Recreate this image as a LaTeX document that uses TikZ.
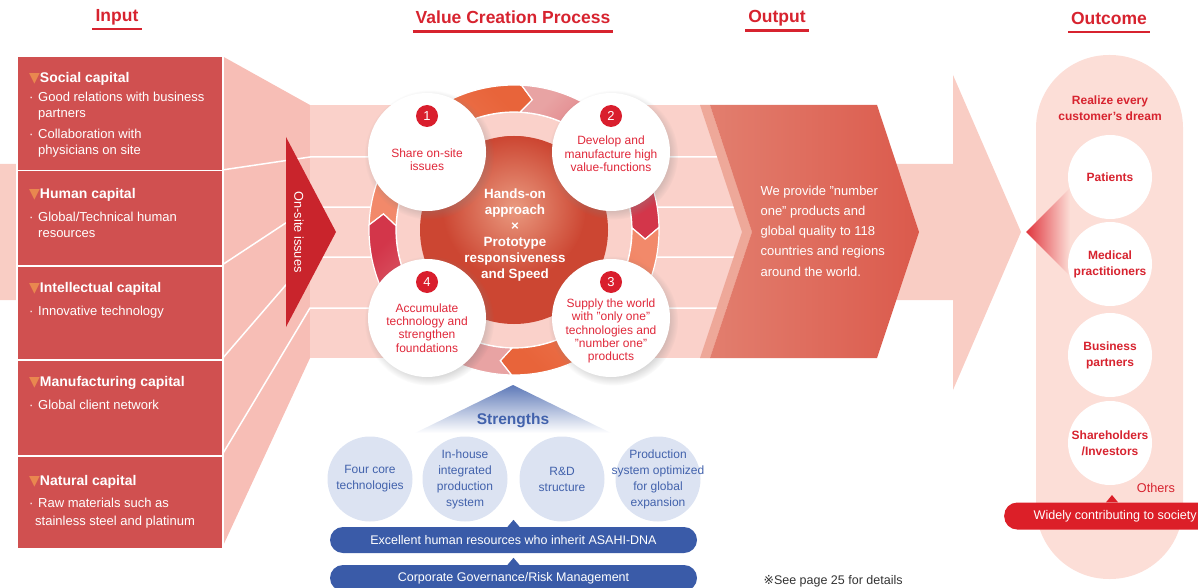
\documentclass[tikz,border=0pt]{standalone}
\usepackage{fontspec}
\setmainfont{Liberation Sans}
\newfontfamily\symfont{DejaVu Sans}
\usetikzlibrary{arrows,calc,positioning,shapes,shadows}

\definecolor{headred}{HTML}{D7232F}
\definecolor{boxred}{HTML}{D05050}
\definecolor{funnelpink}{HTML}{F7BEB6}
\definecolor{bandpink}{HTML}{FAD1CA}
\definecolor{arrowpink}{HTML}{F9CDC4}
\definecolor{pillpink}{HTML}{FCDED7}
\definecolor{issuered}{HTML}{C9242C}
\definecolor{outleft}{HTML}{E27E6E}
\definecolor{outright}{HTML}{DB5A4C}
\definecolor{outstripe}{HTML}{EEA899}
\definecolor{ringorange}{HTML}{E8643A}
\definecolor{ringsalmon}{HTML}{F2896A}
\definecolor{ringpink}{HTML}{E8A3A3}
\definecolor{ringred}{HTML}{D3364A}
\definecolor{spherein}{HTML}{EA9A80}
\definecolor{sphereout}{HTML}{CC4632}
\definecolor{stagered}{HTML}{E0283A}
\definecolor{badgered}{HTML}{D91E2D}
\definecolor{triorange}{HTML}{E9874F}
\definecolor{strblue}{HTML}{4262AC}
\definecolor{strpale}{HTML}{DCE3F2}
\definecolor{barblue}{HTML}{3A5BA8}
\definecolor{socred}{HTML}{DC1F28}

\newcommand{\captitle}[1]{{\symfont\color{triorange}\fontsize{14}{14}\selectfont\char"25BC}\textbf{\fontsize{14}{16}\selectfont #1}}
\newcommand{\bul}{\makebox[9pt][l]{\textperiodcentered}}
\newcommand{\ind}{\hspace*{9pt}}
\newcommand{\ringseg}[3]{\path[draw=white,line width=1.2pt,#3]
    ($(ring)+(#1:145)$) arc[start angle=#1,end angle=#2,radius=145]
    -- ($(ring)+(#2+5:131.5)$) -- ($(ring)+(#2:118)$)
    arc[start angle=#2,end angle=#1,radius=118]
    -- ($(ring)+(#1+5:131.5)$) -- cycle;}

\tikzset{
heading/.style={font=\bfseries\fontsize{17.5}{20}\selectfont,text=headred,inner sep=0pt},
underline/.style={draw=headred,line width=2.5pt},
capbox/.style={fill=boxred,draw=white,line width=1.5pt,anchor=north west,
    minimum width=206pt,inner sep=0pt},
captext/.style={anchor=north west,align=left,text=white,inner sep=0pt,
    font=\fontsize{13}{16}\selectfont},
stage/.style={circle,fill=white,minimum size=118pt,
    circular drop shadow={shadow xshift=2pt,shadow yshift=-2.5pt,opacity=.3}},
stagetext/.style={align=center,text=stagered,font=\fontsize{12}{13.4}\selectfont},
badge/.style={circle,fill=badgered,text=white,minimum size=22pt,inner sep=0pt,
    font=\fontsize{13}{13}\selectfont},
strength/.style={circle,fill=strpale,minimum size=85pt,inner sep=-20pt,align=center,
    text=strblue,font=\fontsize{12}{16}\selectfont},
bar/.style={fill=barblue,rounded corners=13pt,minimum width=367pt,minimum height=26pt,
    text=white,font=\fontsize{12.5}{14}\selectfont},
outcome/.style={circle,fill=white,minimum size=84pt,inner sep=0pt,align=center,
    text=headred,font=\bfseries\fontsize{12}{16}\selectfont},
}

\begin{document}
\begin{tikzpicture}[x=1pt,y=-1pt]
    \useasboundingbox (0,0) rectangle (1198,588);
    \clip (0,0) rectangle (1198,588);

    % headings
    \node[heading] (hin) at (117,17) {Input};
    \node[heading] (hvc) at (513,17) {Value Creation Process};
    \node[heading] (hout) at (777,18) {Output};
    \node[heading] (hres) at (1109,18) {Outcome};
    \foreach \h in {hin,hvc,hout,hres}
        \draw[underline] ($(\h.base west)+(-3,8)$) -- ($(\h.base east)+(3,8)$);

    % background flow
    \fill[arrowpink] (0,164) -- (953,164) -- (953,75) -- (1021,232)
        -- (953,390) -- (953,300) -- (0,300) -- cycle;
    \fill[funnelpink] (222,56) -- (310,105) -- (310,358) -- (222,548) -- cycle;
    \fill[bandpink] (310,105) rectangle (745,358);
    \foreach \ya/\yb in {170/157,265/207,359/257,455/308}
        \draw[white,line width=1.5pt] (222,\ya) -- (310,\yb) -- (745,\yb);

    % output
    \fill[outstripe] (700,105) -- (710,105) -- (752,232) -- (710,358)
        -- (700,358) -- (742,232) -- cycle;
    \shade[left color=outleft,right color=outright] (710,105) -- (877,105)
        -- (919,232) -- (877,358) -- (710,358) -- (752,232) -- cycle;
    \node[anchor=west,align=left,text=white,font=\fontsize{13}{20.3}\selectfont]
        (outtxt) at (757,231) {We provide "number\\one" products and\\global quality to 118\\countries and regions\\around the world.};

    % on-site issues
    \fill[issuered] (286,137) -- (336,232) -- (286,327) -- cycle;
    \node[rotate=-90,text=white,font=\fontsize{12.8}{14}\selectfont] (issues) at (299,232) {On-site issues};

    % input
    \node[capbox,minimum height=114pt] (social) at (16,56) {};
    \node[capbox,minimum height=95pt] (human) at (16,170) {};
    \node[capbox,minimum height=94pt] (intel) at (16,265) {};
    \node[capbox,minimum height=96pt] (manuf) at (16,359) {};
    \node[capbox,minimum height=93pt] (natural) at (16,455) {};

    \node[captext] (socialtxt) at ([xshift=13pt,yshift=-16pt]social.north west)
        {\captitle{Social capital}\\[3pt]\bul Good relations with business\\\ind partners\\[5pt]
         \bul Collaboration with\\\ind physicians on site};
    \node[captext] (humantxt) at ([xshift=13pt,yshift=-18pt]human.north west)
        {\captitle{Human capital}\\[7pt]\bul Global/Technical human\\\ind resources};
    \node[captext] (inteltxt) at ([xshift=13pt,yshift=-17pt]intel.north west)
        {\captitle{Intellectual capital}\\[7pt]\bul Innovative technology};
    \node[captext] (manuftxt) at ([xshift=13pt,yshift=-17pt]manuf.north west)
        {\captitle{Manufacturing capital}\\[7pt]\bul Global client network};
    \node[captext] (naturaltxt) at ([xshift=13pt,yshift=-20pt]natural.north west)
        {\captitle{Natural capital}\\[6pt]\bul Raw materials such as\\[2pt]\hspace*{6pt}stainless steel and platinum};

    % value creation cycle
    \coordinate (ring) at (514,230);
    \fill[bandpink,draw=white,line width=1.5pt] (ring) circle (118);
    \ringseg{182}{273}{left color=ringsalmon,right color=ringorange,shading angle=135}
    \ringseg{273}{359}{left color=ringpink,right color=ringred,shading angle=45}
    \ringseg{359}{451}{left color=ringsalmon,right color=ringorange,shading angle=-45}
    \ringseg{451}{542}{left color=ringpink,right color=ringred,shading angle=225}
    \fill[sphereout] (ring) circle (94);
    \shade[inner color=spherein,outer color=sphereout] ($(ring)+(0,-22)$) circle (72);
    \node[align=center,text=white,font=\bfseries\fontsize{13.4}{16}\selectfont]
        (core) at (515,235) {Hands-on\\approach\\×\\Prototype\\responsiveness\\and Speed};

    \node[stage] (st1) at (427,152) {};
    \node[stage] (st2) at (611,152) {};
    \node[stage] (st3) at (611,318) {};
    \node[stage] (st4) at (427,318) {};
    \foreach \s in {1,...,4}
        \node[badge] (b\s) at ([yshift=36pt]st\s.center) {\s};
    \node[stagetext] (t1) at ([yshift=-8pt]st1.center) {Share on-site\\issues};
    \node[stagetext] (t2) at ([yshift=-2pt]st2.center) {Develop and\\manufacture high\\value-functions};
    \node[stagetext] (t3) at ([yshift=-13pt]st3.center) {Supply the world\\with "only one"\\technologies and\\"number one"\\products};
    \node[stagetext] (t4) at ([yshift=-10pt]st4.center) {Accumulate\\technology and\\strengthen\\foundations};

    % strengths
    \shade[top color=strblue!85!white,bottom color=white] (415,433) -- (513,385) -- (611,433) -- cycle;
    \node[text=strblue,font=\bfseries\fontsize{15.5}{18}\selectfont] (str) at (513,421) {Strengths};
    \node[strength] (sg1) at (370,479) {Four core\\technologies};
    \node[strength] (sg2) at (465,479) {In-house\\integrated\\production\\system};
    \node[strength] (sg3) at (562,479) {R\&D\\structure};
    \node[strength] (sg4) at (658,479) {Production\\system optimized\\for global\\expansion};

    \node[bar] (hr) at (513.5,540) {Excellent human resources who inherit ASAHI-DNA};
    \node[bar] (gov) at (513.5,578) {Corporate Governance/Risk Management};
    \foreach \b in {hr,gov}
        \fill[barblue] ([xshift=-6pt]\b.north) -- ([yshift=7pt]\b.north) -- ([xshift=6pt]\b.north) -- cycle;

    \node[anchor=base west,font=\fontsize{12.5}{14}\selectfont,text=black!80] (note) at (760,584)
        {{\symfont ※}See page 25 for details};

    % outcome
    \fill[pillpink,rounded corners=73pt] (1036,55) rectangle (1183,579);
    \shade[left color=socred!90!white,right color=pillpink] (1026,232) -- (1070,188) -- (1070,276) -- cycle;
    \node[align=center,text=headred,font=\bfseries\fontsize{12}{16}\selectfont] (dream) at (1110,108)
        {Realize every\\customer's dream};
    \node[outcome] (pat) at (1110,177) {Patients};
    \node[outcome] (med) at (1110,264) {Medical\\practitioners};
    \node[outcome] (bus) at (1110,355) {Business\\partners};
    \node[outcome] (sha) at (1110,443) {Shareholders\\/Investors};
    \node[text=headred,font=\fontsize{12.7}{14}\selectfont] (oth) at (1156,488) {Others};
    \node[fill=socred,rounded corners=13pt,minimum height=27pt,minimum width=220pt,anchor=west,
        text=white,font=\fontsize{12.6}{14}\selectfont] (soc) at (1004,516) {\hspace*{2pt}Widely contributing to society};
    \fill[socred] ([xshift=-6pt]soc.north -| 1112,0) -- (1112,495) -- ([xshift=6pt]soc.north -| 1112,0) -- cycle;
\end{tikzpicture}
\end{document}
